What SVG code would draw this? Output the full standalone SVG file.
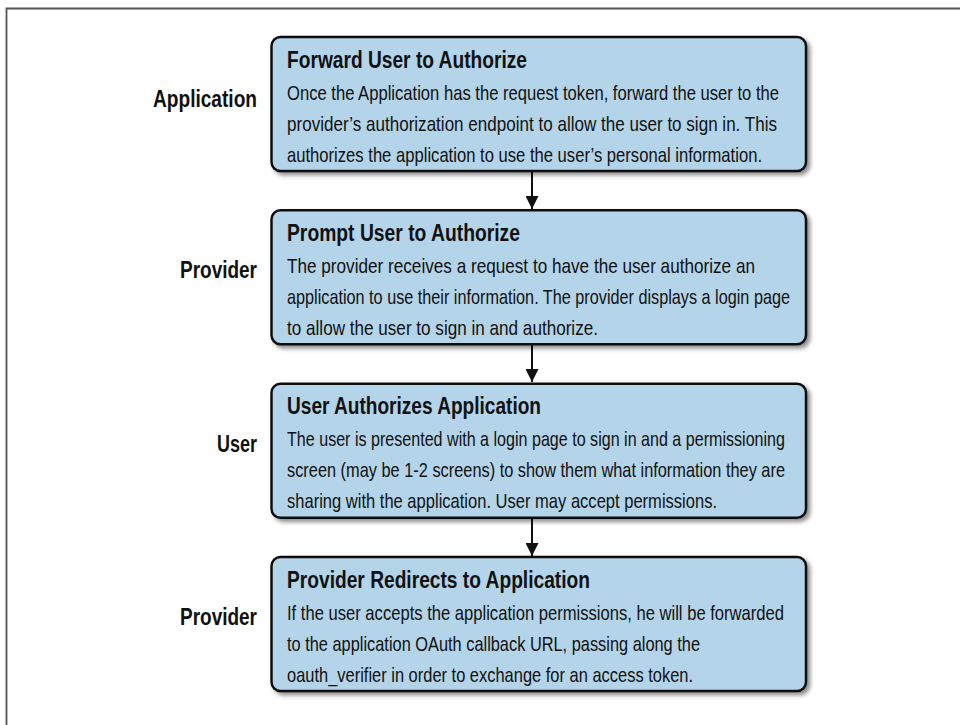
<svg xmlns="http://www.w3.org/2000/svg" width="960" height="725" viewBox="0 0 960 725">
<style>
.box{fill:#b3d4e9;stroke:#111;stroke-width:2.5;filter:url(#sh)}
.t{font-family:"Liberation Sans",Arial,sans-serif;font-weight:bold;font-size:23px;fill:#111}
.b{font-family:"Liberation Sans",Arial,sans-serif;font-size:21px;fill:#111}
.lab{font-family:"Liberation Sans",Arial,sans-serif;font-weight:bold;font-size:23px;fill:#111}
.con{stroke:#111;stroke-width:2;fill:none;marker-end:url(#ah)}
</style>
<defs>
<filter id="sh" x="-5%" y="-10%" width="115%" height="130%">
<feDropShadow dx="3" dy="3" stdDeviation="2" flood-color="#000" flood-opacity="0.45"/>
</filter>
<marker id="ah" markerWidth="15" markerHeight="13" refX="15" refY="7.5" orient="auto" markerUnits="userSpaceOnUse" viewBox="0 0 15 15">
<path d="M0,0 L15,7.5 L0,15 Z" fill="#111"/>
</marker>
</defs>
<rect width="960" height="725" fill="#fff"/>
<path d="M6.5,725 V8.5 H960" fill="none" stroke="#555" stroke-width="1.8"/>

<g id="connectors">
<line class="con" x1="532" y1="172" x2="532" y2="209"/>
<line class="con" x1="532" y1="345" x2="532" y2="382"/>
<line class="con" x1="532" y1="519" x2="532" y2="556"/>
</g>

<g id="node1">
<rect class="box" x="271.5" y="37" width="534.5" height="134" rx="9"/>
<text class="t" x="287" y="67.5" textLength="240" lengthAdjust="spacingAndGlyphs">Forward User to Authorize</text>
<text class="b" x="287" y="99.5" textLength="492" lengthAdjust="spacingAndGlyphs">Once the Application has the request token, forward the user to the</text>
<text class="b" x="287" y="130.5" textLength="490" lengthAdjust="spacingAndGlyphs">provider’s authorization endpoint to allow the user to sign in. This</text>
<text class="b" x="287" y="161.5" textLength="475" lengthAdjust="spacingAndGlyphs">authorizes the application to use the user’s personal information.</text>
</g>
<g id="label1"><text class="lab" x="153" y="107" textLength="104" lengthAdjust="spacingAndGlyphs">Application</text></g>

<g id="node2">
<rect class="box" x="271.5" y="210.3" width="534.5" height="134" rx="9"/>
<text class="t" x="287" y="240.8" textLength="233" lengthAdjust="spacingAndGlyphs">Prompt User to Authorize</text>
<text class="b" x="287" y="272.8" textLength="468" lengthAdjust="spacingAndGlyphs">The provider receives a request to have the user authorize an</text>
<text class="b" x="287" y="303.8" textLength="503" lengthAdjust="spacingAndGlyphs">application to use their information. The provider displays a login page</text>
<text class="b" x="287" y="334.8" textLength="311" lengthAdjust="spacingAndGlyphs">to allow the user to sign in and authorize.</text>
</g>
<g id="label2"><text class="lab" x="180" y="278" textLength="77" lengthAdjust="spacingAndGlyphs">Provider</text></g>

<g id="node3">
<rect class="box" x="271.5" y="383.7" width="534.5" height="134" rx="9"/>
<text class="t" x="287" y="414.2" textLength="254" lengthAdjust="spacingAndGlyphs">User Authorizes Application</text>
<text class="b" x="287" y="446.2" textLength="498" lengthAdjust="spacingAndGlyphs">The user is presented with a login page to sign in and a permissioning</text>
<text class="b" x="287" y="477.2" textLength="498" lengthAdjust="spacingAndGlyphs">screen (may be 1-2 screens) to show them what information they are</text>
<text class="b" x="287" y="508.2" textLength="430" lengthAdjust="spacingAndGlyphs">sharing with the application. User may accept permissions.</text>
</g>
<g id="label3"><text class="lab" x="217" y="452" textLength="40" lengthAdjust="spacingAndGlyphs">User</text></g>

<g id="node4">
<rect class="box" x="271.5" y="557" width="534.5" height="134" rx="9"/>
<text class="t" x="287" y="587.5" textLength="303" lengthAdjust="spacingAndGlyphs">Provider Redirects to Application</text>
<text class="b" x="287" y="619.5" textLength="497" lengthAdjust="spacingAndGlyphs">If the user accepts the application permissions, he will be forwarded</text>
<text class="b" x="287" y="650.5" textLength="413" lengthAdjust="spacingAndGlyphs">to the application OAuth callback URL, passing along the</text>
<text class="b" x="287" y="681.5" textLength="406" lengthAdjust="spacingAndGlyphs">oauth_verifier in order to exchange for an access token.</text>
</g>
<g id="label4"><text class="lab" x="180" y="625" textLength="77" lengthAdjust="spacingAndGlyphs">Provider</text></g>
</svg>
